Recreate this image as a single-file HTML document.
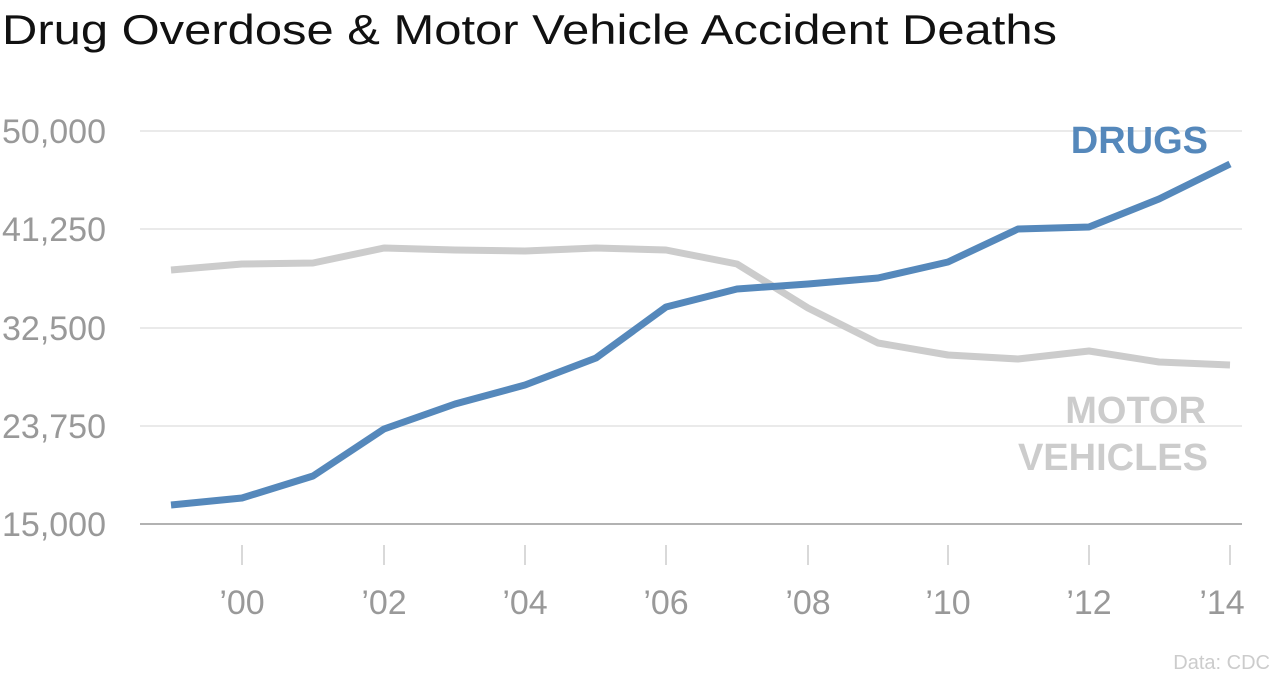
<!DOCTYPE html>
<html><head><meta charset="utf-8"><style>
html,body{margin:0;padding:0;background:#fff;width:1280px;height:688px;overflow:hidden}
</style></head><body>
<svg width="1280" height="688" xmlns="http://www.w3.org/2000/svg" font-family="Liberation Sans, sans-serif">
<text x="2" y="44" font-size="42" fill="#111" textLength="1055" lengthAdjust="spacingAndGlyphs">Drug Overdose &amp; Motor Vehicle Accident Deaths</text>
<g stroke="#e3e3e3" stroke-width="1.5">
<line x1="140" y1="131" x2="1242" y2="131"/>
<line x1="140" y1="229" x2="1242" y2="229"/>
<line x1="140" y1="328" x2="1242" y2="328"/>
<line x1="140" y1="426" x2="1242" y2="426"/>
</g>
<line x1="140" y1="524" x2="1242" y2="524" stroke="#999" stroke-width="1.5"/>
<g stroke="#ccc" stroke-width="1.5">
<line x1="242" y1="545" x2="242" y2="565"/><line x1="384" y1="545" x2="384" y2="565"/>
<line x1="525" y1="545" x2="525" y2="565"/><line x1="666" y1="545" x2="666" y2="565"/>
<line x1="808" y1="545" x2="808" y2="565"/><line x1="948" y1="545" x2="948" y2="565"/>
<line x1="1089" y1="545" x2="1089" y2="565"/><line x1="1230" y1="545" x2="1230" y2="565"/>
</g>
<g font-size="34" fill="#999">
<text x="2" y="143">50,000</text>
<text x="2" y="241">41,250</text>
<text x="2" y="340">32,500</text>
<text x="2" y="438">23,750</text>
<text x="2" y="536">15,000</text>
</g>
<g font-size="34" fill="#999" text-anchor="middle">
<text x="242" y="614">’00</text><text x="384" y="614">’02</text><text x="525" y="614">’04</text>
<text x="666" y="614">’06</text><text x="808" y="614">’08</text><text x="948" y="614">’10</text>
<text x="1089" y="614">’12</text><text x="1222" y="614">’14</text>
</g>
<polyline fill="none" stroke="#cccccc" stroke-width="7" stroke-linejoin="round" points="171,270 242,264 313,263 384,248 455,250 525,251 596,248 666,250 737,264 808,308 878,343 948,355 1018,359 1089,351 1159,362 1230,365"/>
<polyline fill="none" stroke="#5588bb" stroke-width="7" stroke-linejoin="round" points="171,505 242,498 313,476 384,429 455,404 525,385 596,358 666,307 737,289 808,284 878,278 948,262 1018,229 1089,227 1159,199 1230,164"/>
<text x="1208" y="153" font-size="38" font-weight="bold" fill="#5588bb" text-anchor="end">DRUGS</text>
<text x="1206" y="423" font-size="38" font-weight="bold" fill="#cccccc" text-anchor="end">MOTOR</text>
<text x="1208" y="470" font-size="38" font-weight="bold" fill="#cccccc" text-anchor="end">VEHICLES</text>
<text x="1270" y="669" font-size="20" fill="#ccc" text-anchor="end">Data: CDC</text>
</svg>
</body></html>
